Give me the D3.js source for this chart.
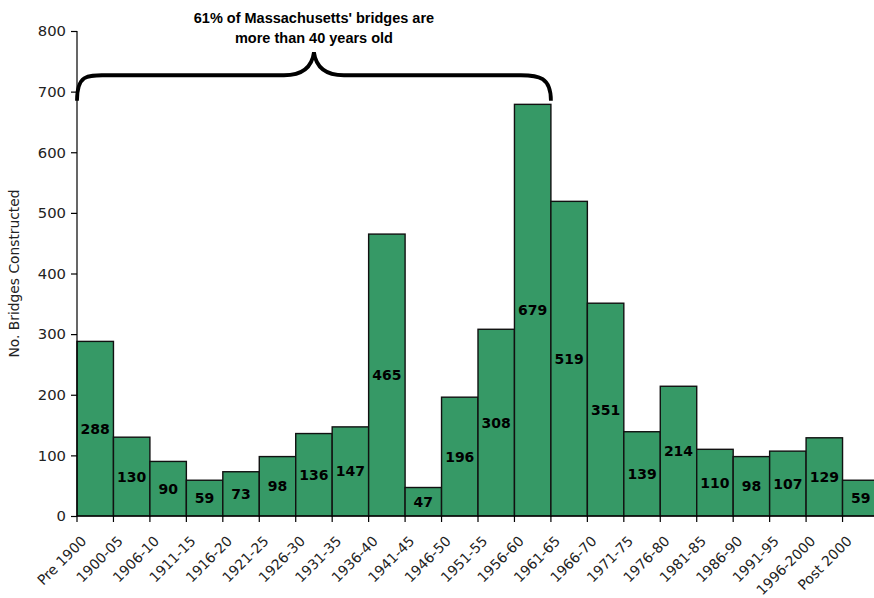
<!DOCTYPE html>
<html>
<head>
<meta charset="utf-8">
<script src="https://cdn.jsdelivr.net/npm/d3@7"></script>
<style>
  html, body { margin: 0; padding: 0; background: #fff; }
  svg { display: block; }
</style>
</head>
<body>
<svg id="chart" width="874" height="598"></svg>
<script>
const categories = ["Pre 1900","1900-05","1906-10","1911-15","1916-20","1921-25","1926-30","1931-35","1936-40","1941-45","1946-50","1951-55","1956-60","1961-65","1966-70","1971-75","1976-80","1981-85","1986-90","1991-95","1996-2000","Post 2000"];
const bridges = [288,130,90,59,73,98,136,147,465,47,196,308,679,519,351,139,214,110,98,107,129,59];
const yTicks = [0,100,200,300,400,500,600,700,800];
const yTitle = "No. Bridges Constructed";
const noteLines = ["61% of Massachusetts' bridges are", "more than 40 years old"];
const braceFrom = "Pre 1900", braceTo = "1956-60";

(function () {
const FONT = "'DejaVu Sans', sans-serif";
const TFONT = "'Liberation Sans', Arial, sans-serif";
const svg = d3.select("#chart");
const mLeft = 77, mRight = 879, mTop = 31, mBottom = 516;

const x = d3.scaleBand().domain(categories).range([mLeft, mRight]).padding(0);
const y = d3.scaleLinear().domain([0, 800]).range([mBottom, mTop]);

const plot = svg.append("g");

plot.selectAll("rect.bar").data(bridges).join("rect")
  .attr("class", "bar")
  .attr("x", (d, i) => x(categories[i]))
  .attr("y", d => y(d))
  .attr("width", x.bandwidth())
  .attr("height", d => y(0) - y(d))
  .attr("fill", "#369966")
  .attr("stroke", "#111")
  .attr("stroke-width", 1.4);

plot.selectAll("text.val").data(bridges).join("text")
  .attr("class", "val")
  .attr("x", (d, i) => x(categories[i]) + x.bandwidth() / 2)
  .attr("y", d => (y(d) + y(0)) / 2)
  .attr("dy", "0.36em")
  .attr("text-anchor", "middle")
  .attr("font-family", FONT)
  .attr("font-weight", "bold")
  .attr("font-size", 14)
  .attr("fill", "#000")
  .text(d => d);

const yAxis = d3.axisLeft(y).tickValues(yTicks).tickSize(6).tickPadding(5);
const gy = svg.append("g").attr("transform", `translate(${mLeft},0)`).call(yAxis);
gy.select(".domain").attr("stroke", "#000").attr("stroke-width", 1.2).attr("d", `M0,${y(0)}V${y(800)}`);
gy.selectAll(".tick line").attr("stroke", "#000").attr("stroke-width", 1.2);
gy.selectAll(".tick text").attr("font-family", FONT).attr("font-size", 14.8).attr("fill", "#222");

const gx = svg.append("g").attr("transform", `translate(0,${mBottom})`);
gx.append("line").attr("x1", mLeft).attr("x2", 874).attr("y1", 0).attr("y2", 0)
  .attr("stroke", "#000").attr("stroke-width", 1.2);
gx.selectAll("line.tk").data(categories).join("line")
  .attr("class", "tk")
  .attr("x1", d => x(d)).attr("x2", d => x(d))
  .attr("y1", 0).attr("y2", 6)
  .attr("stroke", "#000").attr("stroke-width", 1.2);
gx.selectAll("text.xl").data(categories).join("text")
  .attr("class", "xl")
  .attr("transform", d => `translate(${x(d) + x.bandwidth() / 2 - 8},${26}) rotate(-45)`)
  .attr("text-anchor", "end")
  .attr("font-family", FONT)
  .attr("font-size", 14)
  .attr("fill", "#222")
  .text(d => d);

svg.append("text")
  .attr("transform", `translate(19,${(mTop + mBottom) / 2}) rotate(-90)`)
  .attr("text-anchor", "middle")
  .attr("font-family", FONT)
  .attr("font-size", 13.8)
  .attr("fill", "#222")
  .text(yTitle);

const bx0 = x(braceFrom), bx1 = x(braceTo) + x.bandwidth();
const bm = (bx0 + bx1) / 2;
const yEnd = y(685), yBar = y(727), yTip = y(765);
const r = 30;
const p = d3.path();
p.moveTo(bx0, yEnd);
p.bezierCurveTo(bx0, yBar - 2, bx0 + 12, yBar, bx0 + r, yBar);
p.lineTo(bm - r, yBar);
p.bezierCurveTo(bm - 12, yBar, bm - 2, yBar - 8, bm, yTip);
p.bezierCurveTo(bm + 2, yBar - 8, bm + 12, yBar, bm + r, yBar);
p.lineTo(bx1 - r, yBar);
p.bezierCurveTo(bx1 - 12, yBar, bx1, yBar + 2, bx1, yEnd);
svg.append("path").attr("d", p.toString())
  .attr("fill", "none").attr("stroke", "#000").attr("stroke-width", 3.8)
  .attr("stroke-linecap", "butt");

svg.append("g").selectAll("text").data(noteLines).join("text")
  .attr("x", bm)
  .attr("y", (d, i) => 23 + i * 20)
  .attr("text-anchor", "middle")
  .attr("font-family", TFONT)
  .attr("font-weight", "bold")
  .attr("font-size", 14.5)
  .attr("fill", "#000")
  .text(d => d);
})();
</script>
</body>
</html>
